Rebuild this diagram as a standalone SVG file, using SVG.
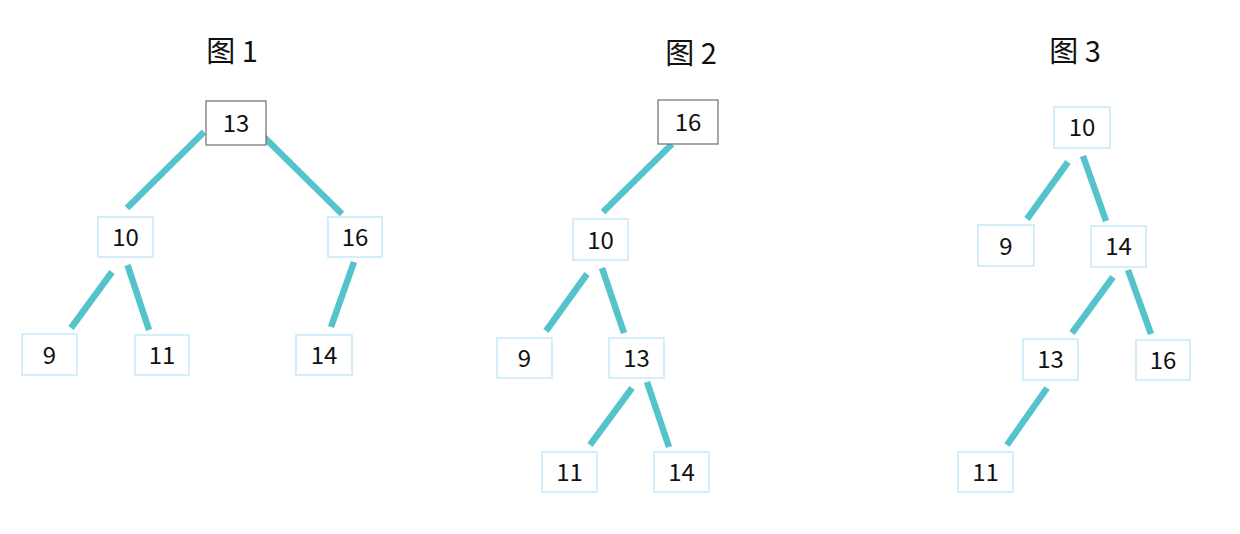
<svg xmlns="http://www.w3.org/2000/svg" width="1240" height="534" viewBox="0 0 1240 534">
<style>
.bg{fill:#ffffff}
.title{font-family:"Noto Sans CJK SC","Noto Sans",sans-serif;font-size:29px;fill:#111;text-anchor:middle}
.n rect{fill:#ffffff;stroke:#bde6f7;stroke-width:1.3}
.n.root rect{stroke:#6e6e6e;stroke-width:1.2}
.n text{font-family:"Noto Sans CJK SC","Noto Sans",sans-serif;font-size:24px;fill:#111;text-anchor:middle}
#edges line{stroke:#55c3cb;stroke-width:6.5;stroke-linecap:butt}
</style>
<rect class="bg" x="0" y="0" width="1240" height="534"/>
<text class="title" x="232" y="62">图 1</text>
<text class="title" x="691" y="64">图 2</text>
<text class="title" x="1075" y="62">图 3</text>
<g id="edges">
<line x1="204" y1="132" x2="127" y2="208"/>
<line x1="264" y1="137" x2="342" y2="214"/>
<line x1="112" y1="272" x2="71" y2="328"/>
<line x1="127.5" y1="265" x2="149" y2="330"/>
<line x1="354" y1="262" x2="331" y2="327"/>
<line x1="672" y1="144" x2="603" y2="212"/>
<line x1="587" y1="274" x2="546" y2="331"/>
<line x1="602" y1="268" x2="624" y2="333"/>
<line x1="632" y1="388" x2="590" y2="445"/>
<line x1="647" y1="382" x2="669" y2="447"/>
<line x1="1068" y1="162" x2="1027" y2="219"/>
<line x1="1083" y1="156" x2="1106" y2="221"/>
<line x1="1113" y1="277" x2="1072" y2="333"/>
<line x1="1128" y1="270" x2="1151" y2="334"/>
<line x1="1047" y1="388" x2="1007" y2="445"/>
</g>
<g id="t1-13" class="n root"><rect x="206" y="101" width="60" height="44"/><text x="236" y="132">13</text></g>
<g id="t1-10" class="n"><rect x="98" y="217" width="55" height="40"/><text x="125.5" y="246">10</text></g>
<g id="t1-16" class="n"><rect x="328" y="217" width="54" height="40"/><text x="355" y="246">16</text></g>
<g id="t1-9" class="n"><rect x="22" y="334" width="55" height="41"/><text x="49.5" y="364">9</text></g>
<g id="t1-11" class="n"><rect x="135" y="335" width="54" height="40"/><text x="162" y="364">11</text></g>
<g id="t1-14" class="n"><rect x="296" y="335" width="56" height="40"/><text x="324" y="364">14</text></g>
<g id="t2-16" class="n root"><rect x="658" y="100" width="60" height="44"/><text x="688" y="131">16</text></g>
<g id="t2-10" class="n"><rect x="573" y="219" width="55" height="41"/><text x="600.5" y="249">10</text></g>
<g id="t2-9" class="n"><rect x="497" y="338" width="55" height="40"/><text x="524.5" y="367">9</text></g>
<g id="t2-13" class="n"><rect x="609" y="338" width="55" height="40"/><text x="636.5" y="367">13</text></g>
<g id="t2-11" class="n"><rect x="542" y="452" width="55" height="40"/><text x="569.5" y="481">11</text></g>
<g id="t2-14" class="n"><rect x="654" y="452" width="55" height="40"/><text x="681.5" y="481">14</text></g>
<g id="t3-10" class="n"><rect x="1054" y="107" width="56" height="41"/><text x="1082" y="136">10</text></g>
<g id="t3-9" class="n"><rect x="978" y="225" width="56" height="41"/><text x="1006" y="255">9</text></g>
<g id="t3-14" class="n"><rect x="1091" y="226" width="55" height="41"/><text x="1118.5" y="255">14</text></g>
<g id="t3-13" class="n"><rect x="1023" y="339" width="55" height="41"/><text x="1050.5" y="368">13</text></g>
<g id="t3-16" class="n"><rect x="1136" y="340" width="54" height="40"/><text x="1163" y="369">16</text></g>
<g id="t3-11" class="n"><rect x="958" y="452" width="55" height="40"/><text x="985.5" y="481">11</text></g>
</svg>
